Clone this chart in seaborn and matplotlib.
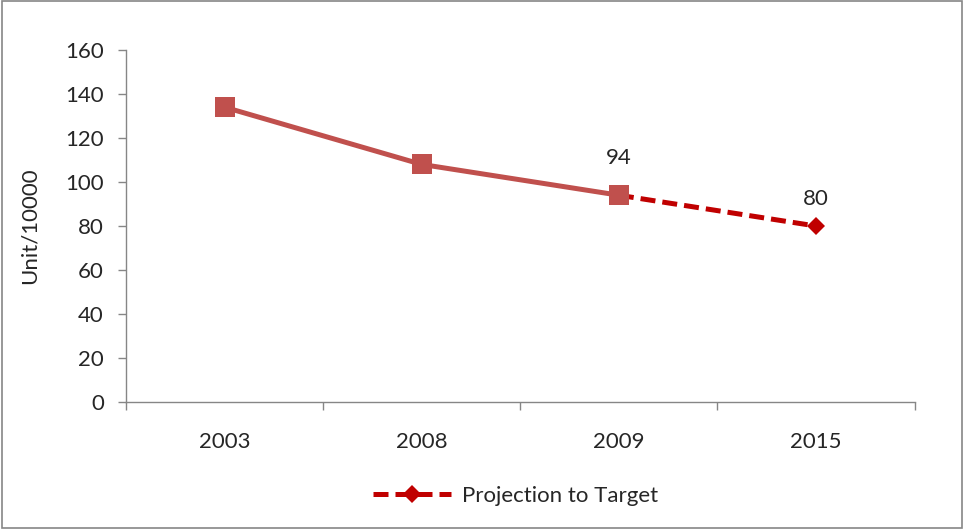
import numpy as np
import pandas as pd
import matplotlib.pyplot as plt
import seaborn as sns
from matplotlib.patches import Rectangle
from matplotlib.lines import Line2D

years = ["2003", "2008", "2009", "2015"]
actual_years = ["2003", "2008", "2009"]
actual_vals = [134, 108, 94]
proj_years = ["2009", "2015"]
proj_vals = [94, 80]
label_years = ["2009", "2015"]
label_vals = [94, 80]

sns.set_style("white")
plt.rcParams['font.family'] = ['Lato', 'DejaVu Sans']

pos = {y: i for i, y in enumerate(years)}
actual = pd.DataFrame({"x": [pos[y] for y in actual_years], "v": actual_vals})
proj = pd.DataFrame({"x": [pos[y] for y in proj_years], "v": proj_vals})

fig = plt.figure(figsize=(9.64, 5.29), dpi=100)
ax = fig.add_axes([0.1307, 0.240, 0.818, 0.6655])

dash = (0, (3.0, 1.4))
fs = 16
sns.lineplot(data=proj, x="x", y="v", ax=ax, color="#C00000", linewidth=3.6,
             linestyle=dash, marker="D", markersize=9, markeredgewidth=0,
             legend=False, zorder=2)
sns.lineplot(data=actual, x="x", y="v", ax=ax, color="#C0504D", linewidth=3.6,
             marker="s", markersize=14, markeredgewidth=0, legend=False, zorder=3)

# data labels
for y, v, off in zip(label_years, label_vals, [17, 12.5]):
    ax.text(pos[y], v + off, str(v), ha="center", va="center", fontsize=fs)

ax.set_xlim(-0.5, len(years) - 0.5)
ax.set_ylim(0, 160)
ax.set_yticks(np.arange(0, 161, 20))
ax.set_xticks(range(len(years)))
ax.set_xticklabels(years)
ax.set_xticks(np.arange(-0.5, len(years), 1), minor=True)
ax.tick_params(axis="x", which="major", bottom=False, pad=18, labelsize=fs)
ax.tick_params(axis="x", which="minor", bottom=True, length=6, width=1,
               color="#868686", direction="out")
ax.tick_params(axis="y", left=True, length=6, width=1, color="#868686",
               direction="out", pad=10, labelsize=fs)
ax.set_xlabel("")
ax.set_ylabel("Unit/10000", fontsize=fs, labelpad=18)

for s in ["top", "right"]:
    ax.spines[s].set_visible(False)
for s in ["left", "bottom"]:
    ax.spines[s].set_color("#868686")
    ax.spines[s].set_linewidth(1)

handle = Line2D([], [], color="#C00000", linewidth=3.6, linestyle=dash,
                marker="D", markersize=9, markeredgewidth=0)
fig.legend([handle], ["Projection to Target"], loc="center", bbox_to_anchor=(0.535, 0.063),
           frameon=False, fontsize=fs, handlelength=3.5, handletextpad=0.5)

fig.patches.append(Rectangle((0.002, 0.002), 0.996, 0.996, transform=fig.transFigure,
                             fill=False, edgecolor="#868686", linewidth=1.2))

fig.savefig("out.png", dpi=100)
